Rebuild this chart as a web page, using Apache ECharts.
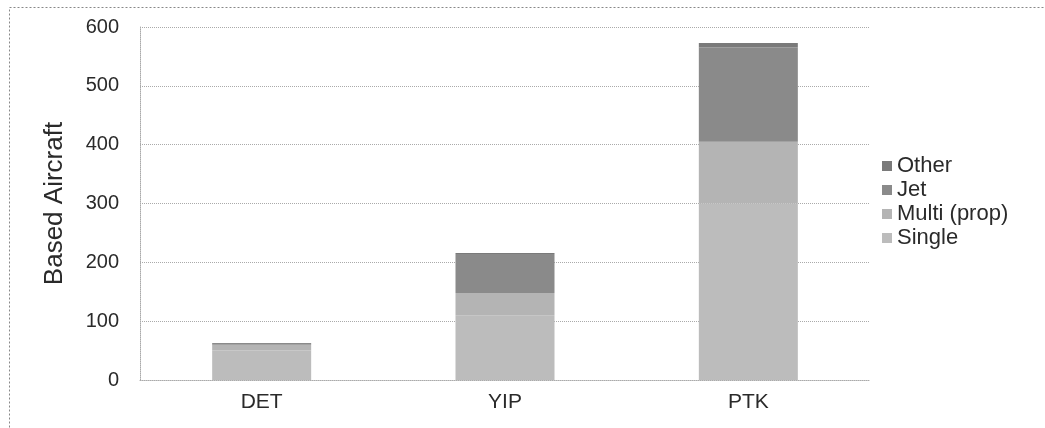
<!DOCTYPE html>
<html>
<head>
<meta charset="utf-8">
<script src="https://cdn.jsdelivr.net/npm/echarts@6/dist/echarts.min.js"></script>
<style>
html,body{margin:0;padding:0;background:#fff;}
#c{width:1045px;height:428px;}
</style>
</head>
<body>
<div id="c"></div>
<script>
var categories = ['DET', 'YIP', 'PTK'];
var single = [50, 110, 300];
var multi = [10, 38, 105];
var jet = [3, 66, 160];
var other = [0, 2, 8];
var yTicks = [0, 100, 200, 300, 400, 500, 600];
var legendOrder = ['Other', 'Jet', 'Multi (prop)', 'Single'];

var colors = {Single: '#bcbcbc', 'Multi (prop)': '#b4b4b4', Jet: '#8a8a8a', Other: '#7a7a7a'};
var font = 'Liberation Sans, Arial, sans-serif';

function mk(name, data) {
  return {
    name: name, type: 'bar', stack: 'a', data: data, barWidth: 99,
    itemStyle: {color: colors[name]}
  };
}

var chart = echarts.init(document.getElementById('c'));
chart.setOption({
  animation: false,
  backgroundColor: '#fff',
  textStyle: {fontFamily: font},
  grid: {left: 140, right: 175, top: 27, bottom: 48},
  legend: {
    data: legendOrder, orient: 'vertical', left: 877, top: 150,
    itemWidth: 10, itemHeight: 10, itemGap: 2, icon: 'rect',
    textStyle: {fontSize: 22, color: '#2a2a2a', fontFamily: font}
  },
  xAxis: {
    type: 'category', data: categories,
    axisLine: {lineStyle: {color: '#aaa', type: 'dotted'}},
    axisTick: {show: false},
    axisLabel: {fontSize: 21, color: '#2a2a2a', margin: 12}
  },
  yAxis: {
    type: 'value', min: yTicks[0], max: yTicks[yTicks.length - 1], interval: 100,
    name: 'Based Aircraft', nameLocation: 'middle', nameGap: 72, nameRotate: 90,
    nameTextStyle: {fontSize: 26, color: '#2a2a2a'},
    axisLine: {show: true, lineStyle: {color: '#aaa', type: 'dotted'}},
    axisTick: {show: false},
    axisLabel: {fontSize: 20, color: '#2a2a2a', margin: 21},
    splitLine: {lineStyle: {color: '#aaa', type: 'dotted'}}
  },
  graphic: [{
    type: 'rect', left: 7, top: 5,
    shape: {width: 1100, height: 1000},
    style: {fill: 'none', stroke: '#888', lineWidth: 1, lineDash: [2, 2]}
  }],
  series: [mk('Single', single), mk('Multi (prop)', multi), mk('Jet', jet), mk('Other', other)]
});
</script>
</body>
</html>
